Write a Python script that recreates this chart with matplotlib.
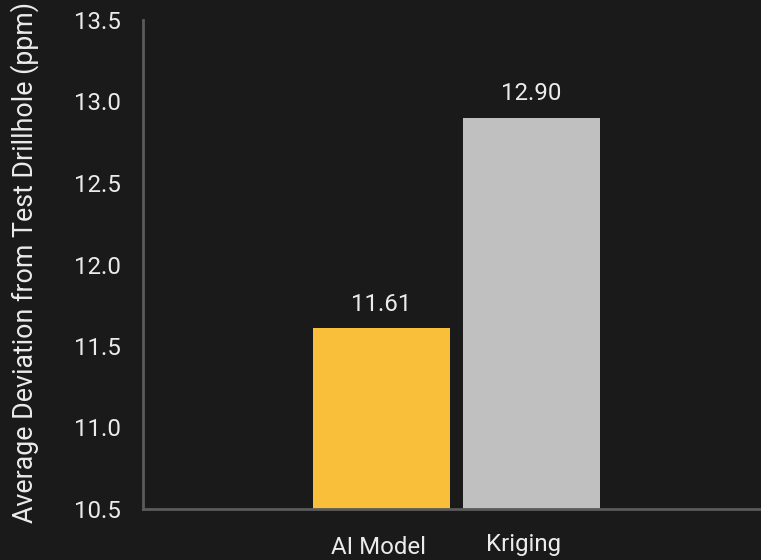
import matplotlib.pyplot as plt
from matplotlib.transforms import offset_copy

plt.rcParams['font.family'] = ['Roboto', 'DejaVu Sans']

models = ["AI Model", "Kriging"]
avg_deviation = [11.61, 12.90]
bar_colors = ["#f9bf3b", "#c0c0c0"]
y_ticks = [10.5, 11.0, 11.5, 12.0, 12.5, 13.0, 13.5]

bg = "#1a1a1a"
text_color = "#ebebeb"
fs = 17.3

fig = plt.figure(figsize=(7.61, 5.6), dpi=100, facecolor=bg)
ax = fig.add_axes([143 / 761, 51 / 560, 618 / 761, 489 / 560], facecolor=bg)

x = range(len(models))
bars = ax.bar(x, avg_deviation, width=0.913, color=bar_colors)

for rect, val in zip(bars, avg_deviation):
    ax.annotate(f"{val:.2f}", (rect.get_x() + rect.get_width() / 2, val),
                xytext=(0, 9), textcoords="offset points",
                ha="center", va="bottom", color=text_color, fontsize=fs)

ax.set_ylim(10.5, 13.5)
ax.set_xlim(-1.59, 2.53)
ax.set_yticks(y_ticks)
ax.set_yticklabels([f"{t:.1f}" for t in y_ticks])
ax.set_xticks(list(x))
ax.set_xticklabels(models)
ax.tick_params(axis="both", length=0, colors=text_color, labelsize=fs)
ax.tick_params(axis="y", pad=16)
ax.tick_params(axis="x", pad=18)

# nudge the category labels (pixel offsets)
label_shift = [(-3, -2), (-8, 1)]
for lbl, (dx, dy) in zip(ax.get_xticklabels(), label_shift):
    lbl.set_transform(offset_copy(lbl.get_transform(), fig=fig, x=dx, y=dy, units="dots"))

ax.set_ylabel("Average Deviation from Test Drillhole (ppm)", color=text_color,
              fontsize=19.3)
ax.yaxis.set_label_coords(-0.168, 0.504)

for side in ["top", "right"]:
    ax.spines[side].set_visible(False)
for side in ["left", "bottom"]:
    ax.spines[side].set_color("#5a5a5a")
    ax.spines[side].set_linewidth(2)

fig.savefig("out.png", dpi=100, facecolor=bg)
